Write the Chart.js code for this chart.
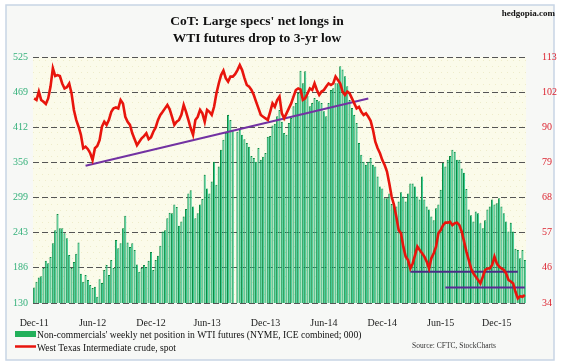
<!DOCTYPE html>
<html>
<head>
<meta charset="utf-8">
<style>
  html, body { margin: 0; padding: 0; background: #ffffff; }
  #wrap { width: 562px; height: 364px; }
</style>
<script src="https://cdn.jsdelivr.net/npm/chart.js@4.4.0/dist/chart.umd.min.js"></script>
</head>
<body>
<div id="wrap"><canvas id="myChart" width="562" height="364"></canvas></div>
<script>
// Axis labels
const dateLabels = ['Dec-11', 'Jun-12', 'Dec-12', 'Jun-13', 'Dec-13', 'Jun-14', 'Dec-14', 'Jun-15', 'Dec-15'];
const leftTicks = [130, 186, 243, 299, 356, 412, 469, 525];
const rightTicks = [34, 46, 57, 68, 79, 90, 102, 113];

// Non-commercials' weekly net position in WTI futures (000)
const netLongs = [
  155, 164, 171, 173, 186, 198, 194, 204, 226, 247, 273, 250, 250, 242, 234, 207, 186, 196, 209, 227,
  177, 164, 175, 167, 159, 154, 156, 140, 168, 162, 183, 191, 175, 199, 186,
  231, 218, 226, 250, 270, 227, 220, 226, 215, 192, 180, 186, 191, 188, 198, 212, 183, 199, 206, 222,
  245, 247, 266, 275, 274, 288, 284, 254, 261, 269, 281, 306, 311, 285, 266,
  274, 288, 297, 336, 314, 306, 325, 357, 320, 349, 376, 392, 403, 432, 424, 408, null, 405, 408, 400,
  393, 387, 381, 366, 363, 357, 379, 360, 365, 371, 397, 398, 415, 418, 430, 440,
  421, 403, 400, 419, 427, 446, 451, 467, 503, 483, 502, 462, 446, 451, 459, 456, 454, 451, 438, 430,
  451, 472, 475, 483, 483, 510, 505, 494, 478, 456, 443, 432, 419, 387, 368, 357,
  352, 357, 363, 352, 349, 333, 317, 314, 298, 298, 306, 289, 290, 285, 293, 308, 301, 293, 306, 322,
  322, 317, 301, 296, 333, 296, 285, 280, 269, 263, 282, 288, 312, 355, 349,
  360, 366, 376, 373, 360, 360, 346, 339, 313, 280, 271, 261, 277, 274, 258, 250, 263, 280, 285, 296,
  288, 290, 298, 285, 274, 261, 245, 259, 245, 217, 215, 202, 215, 199
];

// West Texas Intermediate crude, spot ($)
const wtiSpot = [
  99.7, 99.2, 101.9, 99.2, 98.6, 97.9, 99.7, 103.5, 109.4, 106.9, 107.2, 106.9, 104.5, 102.9, 103.3, 104.5, 101.3, 96, 92.8, 90.6,
  88, 83.7, 84.2, 83.4, 82.1, 79.9, 83.7, 84.4, 86.3, 90.6, 92.2, 91.2, 92.8, 95.4, 96.5,
  96.8, 96.5, 99.2, 98.1, 93.8, 92.2, 91.2, 88.5, 86.6, 84.7, 85.8, 86.9, 87.6, 88.5, 86.6, 87.2, 89, 90.4, 92.8, 94.4,
  95.4, 96.5, 97.6, 96.2, 93.8, 91.2, 92.2, 92.8, 94.4, 97.6, 95.4, 92.8, 90.1, 88, 92.8,
  93.8, 96, 94.9, 92.2, 96, 95.4, 94.4, 97, 101.3, 104.5, 107.2, 108.6, 106.2, 105.1, 106.7, 106.7, 107.5, 108.8, 110.4, 108.8,
  106.2, 104, 103.5, 102.4, 100.8, 98.6, 96.5, 94.4, 93.8, 93.3, 92.8, 95.4, 98.1, 97, 99.2, 100.3,
  94.9, 93.3, 94.9, 96.5, 98.1, 100.3, 102.4, 102.9, 102.6, 99.2, 99.7, 101.3, 102.9, 102.4, 104.5, 102.4, 100.8, 101.9, 102.4, 103.5,
  104.5, 104, 104.5, 106.7, 105.6, 104.5, 101.9, 100.8, 101.9, 101.3, 99.7, 98.1, 96.5, 97, 95.4, 94.4,
  94.9, 93.8, 92.5, 89.6, 85.8, 83.7, 82.1, 79.9, 78.3, 76.2, 72.4, 68.1, 65.5, 61.7, 57.4, 56.4, 52.1, 48.9, 47.8, 45.1,
  46.7, 49.4, 52.1, 51, 50, 48.9, 47.3, 45.1, 48.4, 50, 52.1, 56.4, 57.4, 59, 59.8,
  59.8, 60.1, 59, 59.6, 59.8, 59, 56.9, 53.7, 50.5, 47.8, 45.1, 43.5, 42.4, 41.4, 40.3, 42.4, 44.6, 45.1, 45.1, 46.2,
  48.9, 46.7, 45.7, 45.1, 44.6, 43.5, 41.4, 40.9, 40.3, 37.6, 35.5, 36.2, 36, 36.6
];

// Hand-drawn trend lines: [week index, price]
const trendRising = [[22, 78.1], [143, 99.7]];
const supportHigh = [[161, 44.0], [207, 44.0]];
const supportLow = [[176, 39.0], [210, 39.0]];

const weeksPerLabel = 24.8;
const serif = '"Liberation Serif", "DejaVu Serif", serif';

// Spread a few endpoints over the weekly index, null elsewhere
function sparseLine(points) {
    const out = netLongs.map(() => null);
    points.forEach(([i, v]) => { out[i] = v; });
    return out;
}

const tickMap = {};
dateLabels.forEach((l, k) => { tickMap[Math.round(k * weeksPerLabel)] = l; });

// Evenly spaced ticks carrying the printed labels
function evenTicks(scale, labels) {
    const lo = scale.min, hi = scale.max;
    scale.ticks = labels.map((_, k) => ({ value: lo + k * (hi - lo) / (labels.length - 1) }));
}

const decorations = {
    id: 'decorations',
    beforeDraw(chart) {
        const { ctx, chartArea: a } = chart;
        ctx.save();
        ctx.fillStyle = '#ffffff';
        ctx.fillRect(0, 0, chart.width, chart.height);
        ctx.fillStyle = '#f7f8f6';
        ctx.fillRect(6, 5, 548, 355);
        ctx.strokeStyle = '#c8d5e5';
        ctx.lineWidth = 1.5;
        ctx.strokeRect(6, 5, 548, 355);
        ctx.fillStyle = '#fbfbea';
        ctx.fillRect(a.left, a.top, a.right - a.left, a.bottom - a.top);
        // faint dotted texture of the plot area
        ctx.fillStyle = '#eeeccb';
        for (let y = a.top + 3; y < a.bottom; y += 6) {
            for (let x = a.left + ((y / 6) % 2 ? 3 : 0); x < a.right; x += 6) {
                ctx.fillRect(x, y, 1, 1);
            }
        }
        ctx.restore();
    },
    afterDraw(chart) {
        const ctx = chart.ctx;
        ctx.save();
        ctx.fillStyle = '#111111';
        ctx.textAlign = 'center';
        ctx.textBaseline = 'alphabetic';
        ctx.font = 'bold 13.5px ' + serif;
        ctx.fillText("CoT: Large specs' net longs in", 257, 25);
        ctx.fillText('WTI futures drop to 3-yr low', 257, 42);

        ctx.textAlign = 'right';
        ctx.font = 'bold 9px ' + serif;
        ctx.fillText('hedgopia.com', 555, 16);

        // legend
        ctx.textAlign = 'left';
        ctx.fillStyle = '#22b05a';
        ctx.fillRect(15, 331, 21, 6);
        ctx.strokeStyle = '#e8150d';
        ctx.lineWidth = 2.5;
        ctx.beginPath();
        ctx.moveTo(15, 346.5);
        ctx.lineTo(36, 346.5);
        ctx.stroke();
        ctx.fillStyle = '#111111';
        ctx.font = '9.6px ' + serif;
        ctx.fillText("Non-commercials' weekly net position in WTI futures (NYME, ICE combined; 000)", 37, 338);
        ctx.fillText('West Texas Intermediate crude, spot', 37, 351);

        ctx.font = '7.5px ' + serif;
        ctx.fillStyle = '#333333';
        ctx.fillText('Source: CFTC, StockCharts', 412, 348);
        ctx.restore();
    }
};

const ctx = document.getElementById('myChart').getContext('2d');
new Chart(ctx, {
    data: {
        labels: netLongs.map((_, i) => i),
        datasets: [
            {
                type: 'line',
                label: 'West Texas Intermediate crude, spot',
                data: wtiSpot,
                yAxisID: 'yR',
                borderColor: '#e8150d',
                borderWidth: 2.6,
                pointRadius: 0,
                order: 0
            },
            {
                type: 'line',
                label: 'trend',
                data: sparseLine(trendRising),
                yAxisID: 'yR',
                borderColor: '#7232a2',
                borderWidth: 2,
                pointRadius: 0,
                spanGaps: true,
                order: 1
            },
            {
                type: 'line',
                label: 'support 1',
                data: sparseLine(supportHigh),
                yAxisID: 'yR',
                borderColor: '#4a2c86',
                borderWidth: 2,
                pointRadius: 0,
                spanGaps: true,
                order: 1
            },
            {
                type: 'line',
                label: 'support 2',
                data: sparseLine(supportLow),
                yAxisID: 'yR',
                borderColor: '#5a2a96',
                borderWidth: 2,
                pointRadius: 0,
                spanGaps: true,
                order: 1
            },
            {
                type: 'bar',
                label: "Non-commercials' weekly net position in WTI futures (NYME, ICE combined; 000)",
                data: netLongs,
                yAxisID: 'yL',
                backgroundColor: '#3ccb94',
                borderColor: '#0c8a40',
                borderWidth: { left: 1, top: 1, right: 0, bottom: 0 },
                borderSkipped: false,
                barPercentage: 0.92,
                categoryPercentage: 1.0,
                order: 3
            }
        ]
    },
    options: {
        responsive: false,
        animation: false,
        layout: { padding: { top: 57, left: 0, right: 0, bottom: 0 } },
        plugins: {
            legend: { display: false },
            tooltip: { enabled: false }
        },
        scales: {
            x: {
                type: 'category',
                offset: true,
                grid: { display: false },
                border: { display: false },
                ticks: {
                    autoSkip: false,
                    maxRotation: 0,
                    padding: 6,
                    color: '#222222',
                    font: { family: serif, size: 10 },
                    callback: (val, i) => tickMap[i] || ''
                },
                afterFit: s => { s.height = 61; }
            },
            yL: {
                position: 'left',
                min: 130,
                max: 525,
                afterBuildTicks: s => evenTicks(s, leftTicks),
                grid: { color: '#555555', lineWidth: 1, drawTicks: false },
                border: { display: false, dash: [6, 3] },
                ticks: {
                    padding: 5,
                    color: '#33b07a',
                    font: { family: serif, size: 10 },
                    callback: (v, i) => leftTicks[i]
                },
                afterFit: s => { s.width = 33; }
            },
            yR: {
                position: 'right',
                min: 34,
                max: 113,
                afterBuildTicks: s => evenTicks(s, rightTicks),
                grid: { display: false },
                border: { display: false },
                ticks: {
                    padding: 8,
                    color: '#dc2430',
                    font: { family: serif, size: 10 },
                    callback: (v, i) => rightTicks[i]
                },
                afterFit: s => { s.width = 36; }
            }
        }
    },
    plugins: [decorations]
});
</script>
</body>
</html>
